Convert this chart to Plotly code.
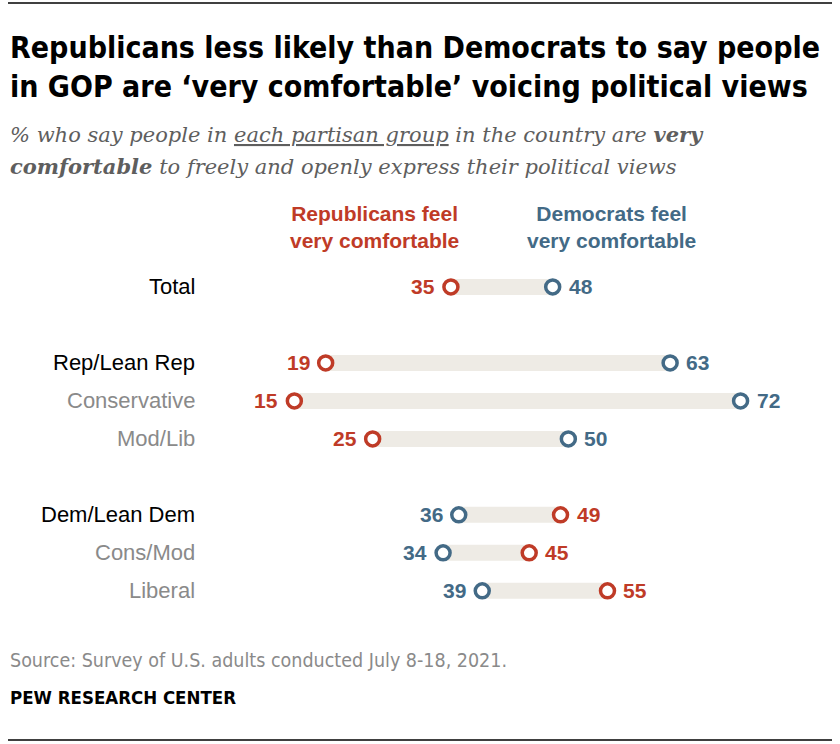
import plotly.graph_objects as go

# data
groups = ["Total", "Rep/Lean Rep", "Conservative", "Mod/Lib",
          "Dem/Lean Dem", "Cons/Mod", "Liberal"]
rows = [0, 2, 3, 4, 6, 7, 8]   # blank row between the blocks
rep_feel = [35, 19, 15, 25, 49, 45, 55]
dem_feel = [48, 63, 72, 50, 36, 34, 39]
main_rows = ["Total", "Rep/Lean Rep", "Dem/Lean Dem"]

RED = "#BF3B27"
BLUE = "#436A86"
BAR = "#EEEBE5"
COND = "DejaVu Sans Condensed"
SANS = "Liberation Sans"

fig = go.Figure()

# grey bar between the two dots
for r, a, b in zip(rows, rep_feel, dem_feel):
    fig.add_trace(go.Scatter(x=[a, b], y=[r, r], mode="lines",
                             line=dict(color=BAR, width=16),
                             hoverinfo="skip", showlegend=False))

for vals, col in [(rep_feel, RED), (dem_feel, BLUE)]:
    fig.add_trace(go.Scatter(
        x=vals, y=rows, mode="markers", hoverinfo="x",
        marker=dict(symbol="circle", size=14, color="white",
                    line=dict(color=col, width=3.5)),
        showlegend=False))

annos = []
# value labels beside the dots
for vals, other, col in [(rep_feel, dem_feel, RED), (dem_feel, rep_feel, BLUE)]:
    for v, o, r in zip(vals, other, rows):
        left = v < o
        annos.append(dict(x=v, y=r, xref="x", yref="y", text=str(v), showarrow=False,
                          xanchor="right" if left else "left", yanchor="middle",
                          xshift=-14 if left else 14,
                          font=dict(family=SANS, size=21, color=col, weight="bold")))

for g, r in zip(groups, rows):
    annos.append(dict(x=197 / 840, xref="paper", y=r, yref="y", text=g,
                      xanchor="right", yanchor="middle", showarrow=False,
                      font=dict(family=SANS, size=22,
                                color="#000000" if g in main_rows else "#8A8A8A")))

# column headers
annos.append(dict(x=374 / 840, xref="paper", y=-1.58, yref="y", showarrow=False,
                  text="Republicans feel<br>very comfortable", xanchor="center",
                  font=dict(family=SANS, size=21, color=RED, weight="bold")))
annos.append(dict(x=611 / 840, xref="paper", y=-1.58, yref="y", showarrow=False,
                  text="Democrats feel<br>very comfortable", xanchor="center",
                  font=dict(family=SANS, size=21, color=BLUE, weight="bold")))

# title, subtitle, footer
def top(px):
    return 1 - px / 744

annos += [
    dict(x=8 / 840, y=top(48), xref="paper", yref="paper", xanchor="left", yanchor="middle",
         showarrow=False, text="Republicans less likely than Democrats to say people",
         font=dict(family=COND, size=30, color="black", weight="bold")),
    dict(x=8 / 840, y=top(86), xref="paper", yref="paper", xanchor="left", yanchor="middle",
         showarrow=False, text="in GOP are \u2018very comfortable\u2019 voicing political views",
         font=dict(family=COND, size=30, color="black", weight="bold")),
    dict(x=8 / 840, y=top(134), xref="paper", yref="paper", xanchor="left", yanchor="middle",
         showarrow=False,
         text="<i>% who say people in <u>each partisan group</u> in the country are <b>very</b></i>",
         font=dict(family="DejaVu Serif", size=21, color="#5E5E5E")),
    dict(x=8 / 840, y=top(166), xref="paper", yref="paper", xanchor="left", yanchor="middle",
         showarrow=False,
         text="<i><b>comfortable</b> to freely and openly express their political views</i>",
         font=dict(family="DejaVu Serif", size=21, color="#5E5E5E")),
    dict(x=8 / 840, y=top(660), xref="paper", yref="paper", xanchor="left", yanchor="middle",
         showarrow=False, text="Source: Survey of U.S. adults conducted July 8-18, 2021.",
         font=dict(family=COND, size=19.5, color="#8A8A8A")),
    dict(x=8 / 840, y=top(697), xref="paper", yref="paper", xanchor="left", yanchor="middle",
         showarrow=False, text="PEW RESEARCH CENTER",
         font=dict(family=COND, size=18.5, color="black", weight="bold")),
]

fig.update_layout(
    width=840, height=744,
    margin=dict(l=0, r=0, t=0, b=0),
    paper_bgcolor="white", plot_bgcolor="white",
    xaxis=dict(range=[-22.6, 84.7], visible=False, fixedrange=True),
    yaxis=dict(range=[12.03, -7.55], visible=False, fixedrange=True),
    annotations=annos,
    shapes=[
        dict(type="line", xref="paper", yref="paper", x0=8 / 840, x1=832 / 840,
             y0=top(3), y1=top(3), line=dict(color="black", width=1.5)),
        dict(type="line", xref="paper", yref="paper", x0=8 / 840, x1=832 / 840,
             y0=top(740), y1=top(740), line=dict(color="black", width=1.5)),
    ],
)

# drop the default page margin so the figure sits at the window corner
fig.write_html("out.html", config={"displayModeBar": False},
               post_script="document.body.style.margin='0';")
